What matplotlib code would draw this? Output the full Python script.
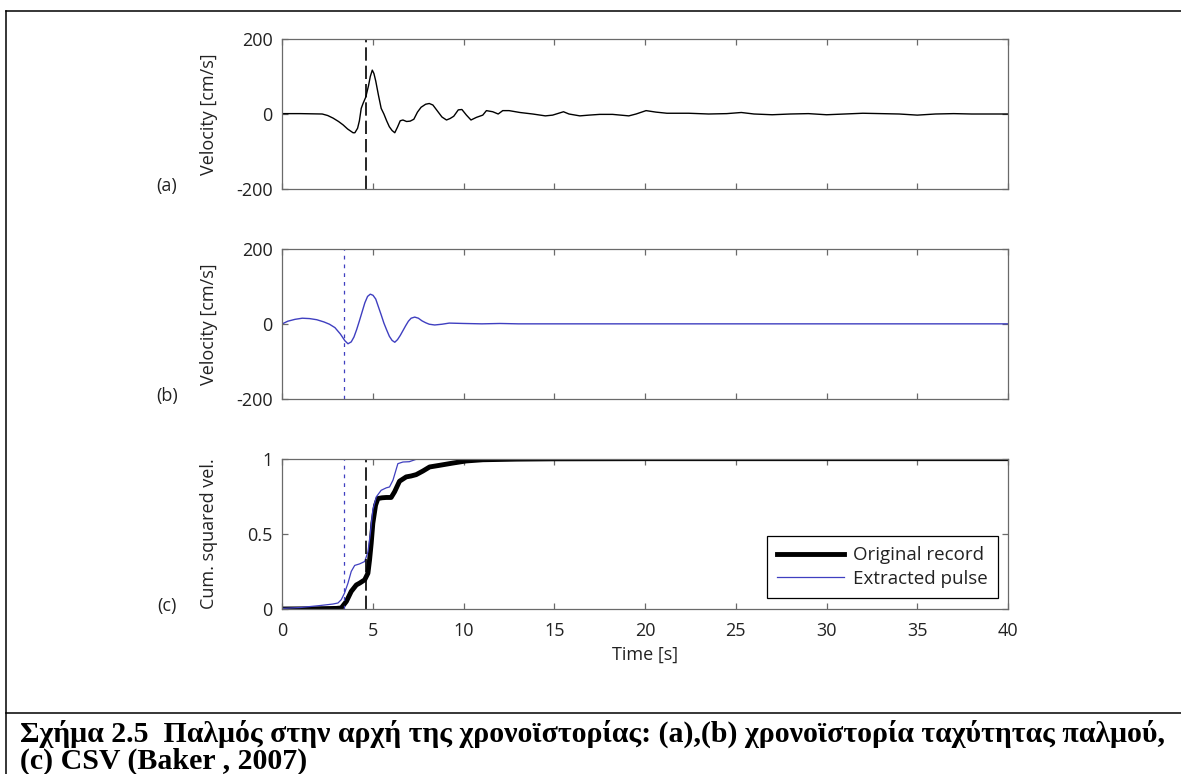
import matplotlib.pyplot as plt
from matplotlib.lines import Line2D

# recorded ground velocity [cm/s]
t_rec = [0, 1, 2.2, 2.5, 2.8, 3.1, 3.35, 3.6, 3.9, 4.0, 4.15, 4.25, 4.35, 4.45,
         4.6, 4.75, 4.85, 4.96, 5.05, 5.15, 5.3, 5.45, 5.6, 5.75, 5.9, 6.05,
         6.2, 6.35, 6.5, 6.65, 6.85, 7.05, 7.25, 7.45, 7.65, 7.9, 8.1, 8.3,
         8.55, 8.8, 9.05, 9.25, 9.45, 9.7, 9.9, 10.15, 10.4, 10.7, 11.05,
         11.25, 11.6, 11.9, 12.15, 12.5, 13.1, 13.8, 14.5, 14.9, 15.5, 15.8,
         16.4, 16.9, 17.5, 18.2, 19.1, 19.5, 20.05, 20.6, 21.2, 22.4, 23.5,
         24.5, 25.3, 26, 27, 28, 29, 30, 31, 32, 33, 34, 35, 36, 37, 38, 40]
v_rec = [1, 1, 0, -4, -11, -20, -29, -40, -50, -50, -38, -18, 15, 28,
         45, 75, 100, 117, 108, 88, 50, 15, 0, -18, -34, -44,
         -50, -35, -18, -16, -20, -19, -14, 5, 18, 26, 28, 24,
         8, -8, -16, -12, -6, 11, 12, -3, -16, -9, -3,
         9, 6, 0, 9, 9, 4, 0, -5, -3, 6, 0,
         -5, -3, -1, -1, -5, 0, 9, 5, 2, 2, 0,
         1, 4, 0, -2, 0, 1, -2, 0, 2, 1, 0, -3, 0, 1, 0, 0]

# extracted pulse velocity [cm/s]
t_pulse = [0, 0.3, 0.7, 1.1, 1.5, 1.9, 2.3, 2.6, 2.9, 3.2, 3.45, 3.62, 3.8,
           3.95, 4.1, 4.25, 4.4, 4.55, 4.7, 4.85, 5.0, 5.15, 5.3, 5.45, 5.6,
           5.75, 5.9, 6.05, 6.2, 6.35, 6.5, 6.65, 6.8, 6.95, 7.1, 7.3, 7.5,
           7.7, 7.9, 8.1, 8.4, 8.8, 9.2, 10, 11, 12, 13, 40]
v_pulse = [0, 7, 12, 15, 14, 11, 5, -1, -10, -27, -45, -53, -48,
           -35, -15, 8, 32, 56, 73, 79, 76, 66, 45, 24, 2,
           -16, -33, -44, -49, -42, -31, -18, -5, 7, 15, 18, 15,
           8, 3, -1, -3, -1, 2, 1, 0, 1, 0, 0]

# cumulative squared velocity (normalised)
t_csv_rec = [0, 2, 2.98, 3.25, 3.53, 3.8, 4.08, 4.26, 4.54, 4.72, 4.81, 4.9,
             4.99, 5.14, 5.27, 5.5, 5.73, 6.0, 6.19, 6.46, 6.83, 7.1, 7.38,
             7.75, 8.12, 8.67, 9.4, 10.14, 11.06, 12.9, 15, 20, 40]
csv_rec = [0, 0.002, 0.004, 0.007, 0.05, 0.117, 0.16, 0.172, 0.194, 0.238,
           0.327, 0.437, 0.57, 0.69, 0.735, 0.74, 0.742, 0.742, 0.78, 0.85,
           0.879, 0.885, 0.894, 0.918, 0.945, 0.956, 0.971, 0.985, 0.993,
           0.997, 0.999, 1.0, 1.0]
t_csv_pulse = [0, 1, 2, 2.79, 3.07, 3.25, 3.43, 3.62, 3.8, 3.99, 4.26, 4.54,
               4.72, 4.85, 4.99, 5.18, 5.45, 5.73, 5.91, 6.1, 6.37, 6.65, 7.0,
               7.38, 7.93, 40]
csv_pulse = [0.004, 0.01, 0.022, 0.033, 0.04, 0.062, 0.106, 0.172, 0.25,
             0.29, 0.30, 0.316, 0.38, 0.50, 0.66, 0.746, 0.79, 0.806, 0.812,
             0.857, 0.967, 0.978, 0.98, 0.996, 1.0, 1.0]

t_orig_mark = 4.6   # marker on original record
t_pulse_mark = 3.42  # pulse arrival

BLUE = "#3f3fc0"
SPINE = "#6a6a6a"
TXT = "#222222"
TICK_FS = 13

plt.rcParams["font.family"] = ["Open Sans", "DejaVu Sans"]
plt.rcParams["axes.unicode_minus"] = False

fig = plt.figure(figsize=(11.81, 7.74), dpi=100)
W, H = 1181, 774


def px_axes(top, bottom, left=282.3, right=1008.0):
    return fig.add_axes([left / W, 1 - bottom / H, (right - left) / W,
                         (bottom - top) / H])


def style(ax, xlabels=False):
    ax.set_xlim(0, 40)
    ax.set_xticks(range(0, 41, 5))
    for s in ax.spines.values():
        s.set_color(SPINE)
        s.set_linewidth(0.9)
    ax.tick_params(direction="in", length=4.5, width=0.9, color=SPINE,
                   top=True, right=True, labelsize=TICK_FS, labelcolor=TXT,
                   pad=7)
    ax.tick_params(axis="x", pad=9, labelbottom=xlabels)


ax_a = px_axes(39, 189)
ax_b = px_axes(248.7, 399)
ax_c = px_axes(458.7, 609)

# (a) recorded velocity
ax_a.plot(t_rec, v_rec, color="black", lw=1.0)
ax_a.axvline(t_orig_mark, color="black", lw=1.2, ls=(0, (8, 3)))
ax_a.set_ylim(-200, 200)
ax_a.set_yticks([-200, 0, 200])
style(ax_a)

# (b) extracted pulse
ax_b.plot(t_pulse, v_pulse, color=BLUE, lw=1.0)
ax_b.axvline(t_pulse_mark, color=BLUE, lw=0.9, ls=(0, (3, 4)))
ax_b.set_ylim(-200, 200)
ax_b.set_yticks([-200, 0, 200])
style(ax_b)

# (c) cumulative squared velocity
ax_c.plot(t_csv_rec, csv_rec, color="black", lw=3.5, solid_capstyle="butt")
ax_c.plot(t_csv_pulse, csv_pulse, color=BLUE, lw=0.9)
ax_c.axvline(t_pulse_mark, color=BLUE, lw=0.9, ls=(0, (3, 4)))
ax_c.axvline(t_orig_mark, color="black", lw=1.2, ls=(0, (8, 3)))
ax_c.set_ylim(0, 1)
ax_c.set_yticks([0, 0.5, 1])
ax_c.set_yticklabels(["0", "0.5", "1"])
style(ax_c, xlabels=True)

for ax, lab in [(ax_a, "Velocity [cm/s]"), (ax_b, "Velocity [cm/s]"),
                (ax_c, "Cum. squared vel.")]:
    ax.set_ylabel(lab, fontsize=TICK_FS, color=TXT)
    ax.yaxis.set_label_coords(-0.0886, 0.5)

for ax, tag in [(ax_a, "(a)"), (ax_b, "(b)"), (ax_c, "(c)")]:
    ax.text(-0.159, 0.02, tag, transform=ax.transAxes, fontsize=TICK_FS,
            color=TXT, ha="center", va="center")

ax_c.set_xlabel("Time [s]", fontsize=TICK_FS, color=TXT)
ax_c.xaxis.set_label_coords(0.5, -0.306)
ax_c.xaxis.label.set_va("center")

handles = [Line2D([], [], color="black", lw=3.5),
           Line2D([], [], color=BLUE, lw=0.9)]
leg = ax_c.legend(handles, ["Original record", "Extracted pulse"],
                  loc="lower right", bbox_to_anchor=(0.986, 0.073),
                  borderaxespad=0, fontsize=13.5, handlelength=3.6,
                  handletextpad=0.45, labelspacing=0.3, borderpad=0.55,
                  fancybox=False, framealpha=1)
leg.get_frame().set_edgecolor("black")
leg.get_frame().set_linewidth(0.9)
for txt in leg.get_texts():
    txt.set_color(TXT)

# frame and caption
border = dict(color="black", lw=1.1, transform=fig.transFigure)
fig.add_artist(Line2D([6 / W, 6 / W], [0, 1 - 11 / H], **border))
fig.add_artist(Line2D([6 / W, 1], [1 - 11 / H, 1 - 11 / H], **border))
fig.add_artist(Line2D([6 / W, 1], [1 - 713 / H, 1 - 713 / H], **border))

cap_font = dict(family="Liberation Serif", weight="bold", fontsize=21.5,
                color="black", ha="left", va="baseline")
fig.text(20 / W, 1 - 742 / H,
         "Σχήμα 2.5  Παλμός στην αρχή της χρονοϊστορίας: (a),(b) "
         "χρονοϊστορία ταχύτητας παλμού,", **cap_font)
fig.text(20 / W, 1 - 768.5 / H, "(c) CSV (Baker , 2007)", **cap_font)

fig.savefig("out.png", dpi=100, facecolor="white")
